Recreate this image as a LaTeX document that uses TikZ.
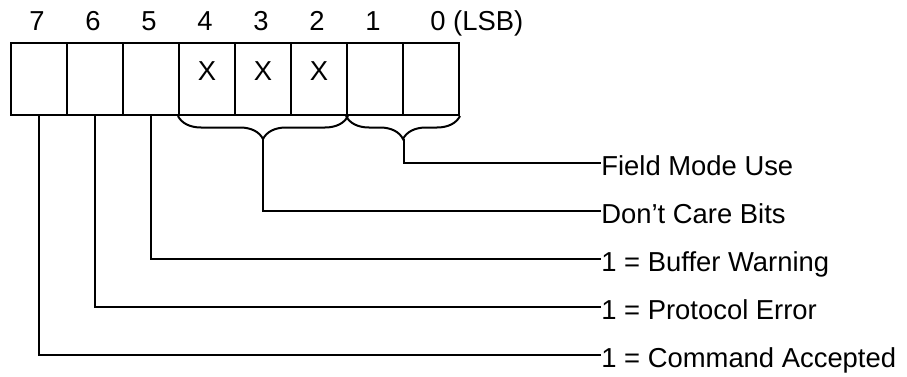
\documentclass[tikz,border=0pt]{standalone}
\usepackage{fontspec}
\setmainfont{Liberation Sans}
\usetikzlibrary{decorations.pathreplacing}

\tikzset{
    bitbox/.style={draw, line width=1pt, minimum width=28pt, minimum height=36.15pt, inner sep=0pt},
    bitnum/.style={anchor=base, inner sep=0pt, font=\fontsize{13.7pt}{16pt}\selectfont},
    fieldtxt/.style={anchor=west, inner sep=0pt, text height=12.7pt, text depth=0pt,
        font=\fontsize{13.7pt}{16pt}\selectfont},
    leader/.style={line width=1pt},
    fieldbrace/.style={line width=1pt, decorate, decoration={brace, mirror, amplitude=11.5pt}}
}

\begin{document}
\begin{tikzpicture}[x=0.5pt, y=0.5pt]
        \useasboundingbox (0,0) rectangle (907,376);
        % status byte, bit 7 on the left
        \foreach \b [count=\i from 0] in {7,6,5,4,3,2,1,0} {
            \node[bitbox] (b\b) at (39+56*\i,297.15) {};
        }
        \foreach \b [count=\i from 0] in {7,6,5,4,3,2,1} {
            \node[bitnum] (n\b) at (37+56*\i,345) {\b};
        }
        \node[bitnum, anchor=base west] (n0) at (430,345) {0 (LSB)};
        \foreach \b in {4,3,2} {
            \node[bitnum] (x\b) at (b\b.center |- 0,295.5) {X};
        }
        % grouped bits
        \draw[fieldbrace] (b4.south west) -- (b2.south east);
        \draw[fieldbrace] (b1.south west) -- (b0.south east);
        \coordinate (dcTip) at ([yshift=-11.5pt]b3.south);
        \coordinate (fmTip) at ([yshift=-11.5pt]b1.south east);
        % descriptions
        \node[fieldtxt] (fm) at (601,213.5) {Field Mode Use};
        \node[fieldtxt] (dc) at (601,165) {Don't Care Bits};
        \node[fieldtxt] (bw) at (601,117) {1 = Buffer Warning};
        \node[fieldtxt] (pe) at (601,69) {1 = Protocol Error};
        \node[fieldtxt] (ca) at (601,21.5) {1 = Command Accepted};
        \draw[leader] (fmTip) |- (fm.west);
        \draw[leader] (dcTip) |- (dc.west);
        \draw[leader] (b5.south) |- (bw.west);
        \draw[leader] (b6.south) |- (pe.west);
        \draw[leader] (b7.south) |- (ca.west);
    \end{tikzpicture}
\end{document}
